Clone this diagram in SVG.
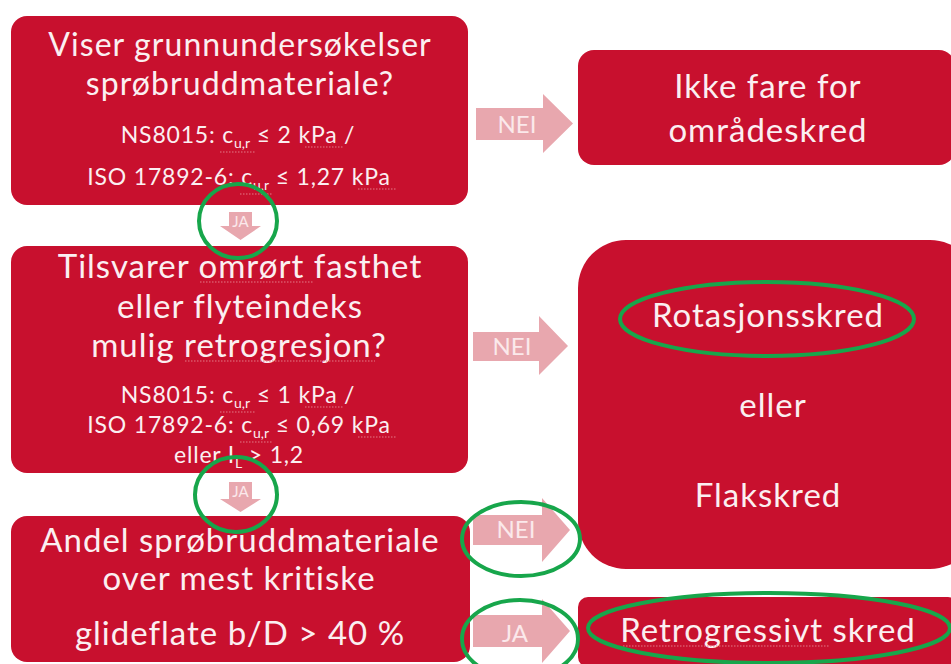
<svg xmlns="http://www.w3.org/2000/svg" width="951" height="664" viewBox="0 0 951 664">
<style>
.box{fill:#c8102e}
.t{font-family:Lato,"Open Sans","Liberation Sans",sans-serif;fill:#fbeff1;text-anchor:middle}
.big{font-size:33px;letter-spacing:1px}
.big1{font-size:32px;letter-spacing:1.1px}
.sm{font-size:23px;letter-spacing:0.8px}
.sub{font-size:14px;letter-spacing:0}
.arr{fill:#e8a7ae}
.al{font-family:Lato,"Open Sans","Liberation Sans",sans-serif;fill:#fbe9eb;font-size:24px;text-anchor:middle}
.als{font-family:Lato,"Open Sans","Liberation Sans",sans-serif;fill:#fbe9eb;font-size:15px;text-anchor:middle}
.ring{fill:none;stroke:#17a64b;stroke-width:4}
.dot{stroke:#e27a86;stroke-width:1.2;stroke-dasharray:1.5 1.5;fill:none}
</style>
<rect width="951" height="664" fill="#ffffff"/>
<g id="connectors">
  <polygon class="arr" points="476,108 543,108 543,94 573,123.5 543,153 543,140 476,140"/>
  <text class="al" x="517" y="133">NEI</text>
  <polygon class="arr" points="473,332 539,332 539,316 568,346 539,375 539,361 473,361"/>
  <text class="al" x="512" y="355">NEI</text>
  <polygon class="arr" points="473,515 542,515 542,498 570,530 542,562 542,545 473,545"/>
  <text class="al" x="516" y="538">NEI</text>
  <polygon class="arr" points="473,615 542,615 542,599 570,631 542,663 542,647 473,647"/>
  <text class="al" x="515" y="642">JA</text>
  <polygon class="arr" points="229,212 252,212 252,226 261,226 240.5,240 220,226 229,226"/>
  <text class="als" x="240.5" y="227">JA</text>
  <polygon class="arr" points="229,482 252,482 252,499 261,499 240.5,512 220,499 229,499"/>
  <text class="als" x="240.5" y="497">JA</text>
</g>
<g id="node-viser">
  <rect class="box" x="11" y="16" width="457" height="189" rx="16"/>
  <text class="t big1" x="240" y="55.5">Viser grunnundersøkelser</text>
  <text class="t big1" x="240" y="94.5">sprøbruddmateriale?</text>
  <text class="t sm" x="238" y="143">NS8015: c<tspan class="sub" dy="5">u,r</tspan><tspan dy="-5"> ≤ 2 kPa /</tspan></text>
  <text class="t sm" x="239" y="185">ISO 17892-6: c<tspan class="sub" dy="5">u,r</tspan><tspan dy="-5"> ≤ 1,27 kPa</tspan></text>
  <path class="dot" d="M220,152 H256 M305,147 H343 M240,194 H272 M358,189 H397"/>
</g>
<g id="node-tilsvarer">
  <rect class="box" x="11" y="246" width="457" height="227" rx="16"/>
  <text class="t big" x="240" y="278">Tilsvarer omrørt fasthet</text>
  <text class="t big" x="240" y="317.5">eller flyteindeks</text>
  <text class="t big" x="239" y="357">mulig retrogresjon?</text>
  <text class="t sm" x="238" y="403">NS8015: c<tspan class="sub" dy="5">u,r</tspan><tspan dy="-5"> ≤ 1 kPa /</tspan></text>
  <text class="t sm" x="239" y="433">ISO 17892-6: c<tspan class="sub" dy="5">u,r</tspan><tspan dy="-5"> ≤ 0,69 kPa</tspan></text>
  <text class="t sm" x="239" y="463">eller I<tspan class="sub" dy="5">L</tspan><tspan dy="-5"> &gt; 1,2</tspan></text>
  <path class="dot" d="M200,282 H313 M185,361 H375 M220,412 H256 M305,407 H343 M240,442 H272 M358,437 H397"/>
</g>
<g id="node-andel">
  <rect class="box" x="11" y="516" width="459" height="146" rx="16"/>
  <text class="t big" x="240" y="552">Andel sprøbruddmateriale</text>
  <text class="t big" x="239" y="590">over mest kritiske</text>
  <text class="t big" x="240" y="645">glideflate b/D &gt; 40 %</text>
</g>
<g id="node-ikke-fare">
  <rect class="box" x="578" y="50" width="377" height="115" rx="16"/>
  <text class="t big" x="768" y="98">Ikke fare for</text>
  <text class="t big" x="768" y="142">områdeskred</text>
</g>
<g id="node-rotasjon">
  <rect class="box" x="578" y="240" width="400" height="329" rx="48"/>
  <text class="t big" x="768" y="327">Rotasjonsskred</text>
  <text class="t big" x="773" y="417">eller</text>
  <text class="t big" x="768" y="507">Flakskred</text>
</g>
<g id="node-retrogressivt">
  <rect class="box" x="578" y="597" width="380" height="70" rx="10"/>
  <text class="t big" x="768" y="642">Retrogressivt skred</text>
  <path class="dot" d="M623,646 H830"/>
</g>
<g id="highlights">
  <ellipse class="ring" cx="238" cy="221" rx="39" ry="37"/>
  <ellipse class="ring" cx="236" cy="494.5" rx="41" ry="37.5"/>
  <ellipse class="ring" cx="767" cy="319" rx="147" ry="37"/>
  <ellipse class="ring" cx="521" cy="539" rx="59" ry="37"/>
  <ellipse class="ring" cx="520" cy="639" rx="58" ry="39"/>
  <ellipse class="ring" cx="769" cy="628" rx="181" ry="35"/>
</g>
</svg>
